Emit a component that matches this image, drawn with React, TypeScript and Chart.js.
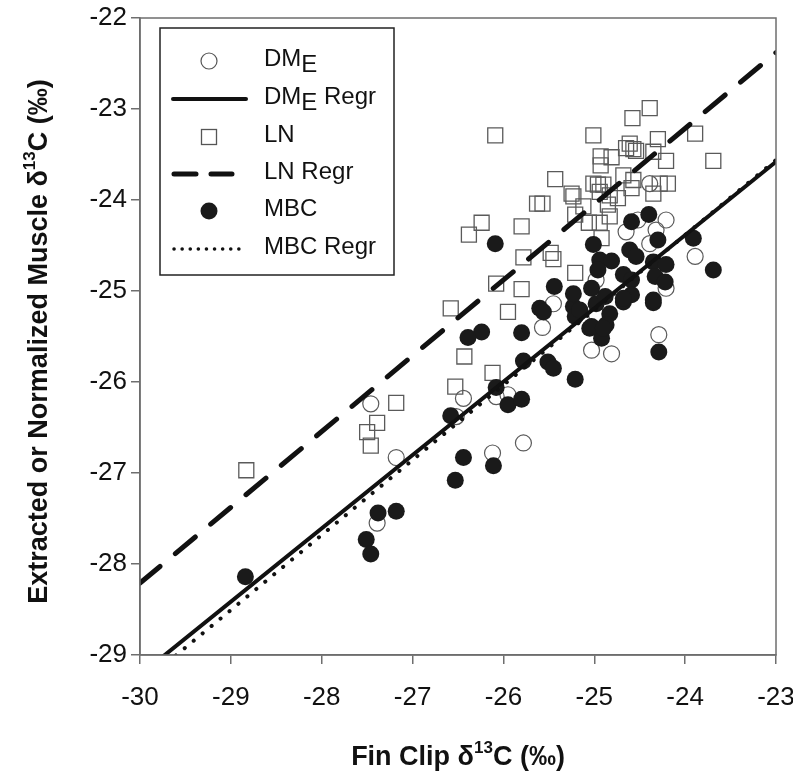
import { useEffect, useRef } from 'react';
import { Chart, registerables } from 'chart.js';
Chart.register(...registerables);

// ---- data ----
const xTicks = [-30, -29, -28, -27, -26, -25, -24, -23];
const yTicks = [-29, -28, -27, -26, -25, -24, -23, -22];

const dmeX = [-27.46, -27.18, -27.39, -26.44, -26.52, -26.08, -25.95, -26.12, -25.78, -25.57, -25.45, -25.03, -24.81, -24.29, -23.89, -24.21, -24.98, -24.52, -24.21, -24.65, -24.32, -24.39, -24.39, -24.98];
const dmeY = [-26.24, -26.83, -27.55, -26.18, -26.38, -26.16, -26.14, -26.78, -26.67, -25.40, -25.14, -25.65, -25.69, -25.48, -24.62, -24.97, -25.25, -24.22, -24.22, -24.35, -24.33, -24.48, -23.82, -24.88];

const lnX = [-28.83, -27.18, -27.39, -27.50, -27.46, -26.58, -26.53, -26.43, -26.12, -26.08, -25.80, -25.95, -26.24, -26.38, -25.80, -25.78, -25.48, -25.45, -25.21, -26.09, -25.43, -25.25, -25.23, -25.63, -25.57, -25.21, -25.06, -24.92, -24.94, -24.83, -25.12, -24.85, -25.01, -24.58, -24.39, -23.89, -23.69, -24.30, -24.61, -24.57, -24.54, -24.65, -24.35, -24.21, -24.93, -24.81, -24.93, -24.68, -24.57, -25.01, -24.96, -24.90, -24.94, -24.83, -24.74, -24.59, -24.19, -24.28, -24.35];
const lnY = [-26.97, -26.23, -26.45, -26.55, -26.70, -25.19, -26.05, -25.72, -25.90, -24.92, -24.98, -25.23, -24.25, -24.38, -24.29, -24.63, -24.58, -24.65, -24.80, -23.29, -23.77, -23.93, -23.96, -24.04, -24.04, -24.16, -24.25, -24.42, -24.25, -24.18, -24.07, -24.05, -23.29, -23.10, -22.99, -23.27, -23.57, -23.33, -23.38, -23.44, -23.46, -23.43, -23.47, -23.57, -23.52, -23.53, -23.62, -23.73, -23.78, -23.82, -23.83, -23.83, -23.91, -23.95, -23.98, -23.87, -23.82, -23.82, -23.93];

const mbcX = [-28.84, -27.51, -27.46, -27.38, -27.18, -26.53, -26.44, -26.11, -26.58, -26.08, -25.95, -25.80, -25.21, -25.78, -25.51, -25.45, -26.24, -26.39, -25.80, -25.60, -25.56, -25.23, -25.21, -25.44, -25.23, -26.09, -24.98, -24.83, -24.87, -25.05, -24.92, -24.68, -24.35, -24.29, -25.16, -25.03, -24.90, -24.59, -24.40, -25.01, -24.30, -23.91, -23.69, -24.61, -24.54, -24.94, -24.81, -24.96, -24.68, -24.35, -24.21, -24.33, -24.22, -24.59, -24.59, -24.68, -25.03, -24.88, -24.35];
const mbcY = [-28.14, -27.73, -27.89, -27.44, -27.42, -27.08, -26.83, -26.92, -26.37, -26.06, -26.25, -26.19, -25.97, -25.77, -25.78, -25.85, -25.45, -25.51, -25.46, -25.19, -25.23, -25.17, -25.28, -24.95, -25.03, -24.48, -25.14, -25.25, -25.37, -25.41, -25.52, -25.12, -25.13, -25.67, -25.21, -25.39, -25.41, -24.24, -24.16, -24.49, -24.44, -24.42, -24.77, -24.55, -24.62, -24.66, -24.67, -24.77, -24.82, -24.68, -24.71, -24.84, -24.90, -24.88, -25.04, -25.08, -24.97, -25.06, -25.10];

const dmeRegX = [-30, -23];
const dmeRegY = [-29.22, -23.58];
const lnRegX = [-30, -23];
const lnRegY = [-28.21, -22.38];
const mbcRegX = [-30, -23];
const mbcRegY = [-29.33, -23.56];

const legendLabels = [
  { main: 'DM', sub: 'E', rest: '' },
  { main: 'DM', sub: 'E', rest: ' Regr' },
  { main: 'LN', sub: '', rest: '' },
  { main: 'LN Regr', sub: '', rest: '' },
  { main: 'MBC', sub: '', rest: '' },
  { main: 'MBC Regr', sub: '', rest: '' },
];

const zip = (xs: number[], ys: number[]) => xs.map((x, i) => ({ x, y: ys[i] }));

const FONT = '"Liberation Sans", Arial, sans-serif';
const AXIS = '#6e6e6e';

function drawRich(ctx: CanvasRenderingContext2D, parts: { t: string; size: number; dy: number }[], cx: number, cy: number, weight: string) {
  let total = 0;
  for (const p of parts) {
    ctx.font = `${weight} ${p.size}px ${FONT}`;
    total += ctx.measureText(p.t).width;
  }
  let x = cx - total / 2;
  for (const p of parts) {
    ctx.font = `${weight} ${p.size}px ${FONT}`;
    ctx.fillText(p.t, x, cy + p.dy);
    x += ctx.measureText(p.t).width;
  }
}

const decor = {
  id: 'decor',
  afterDraw(chart: any) {
    const ctx: CanvasRenderingContext2D = chart.ctx;
    const a = chart.chartArea;
    ctx.save();
    // frame
    ctx.strokeStyle = AXIS;
    ctx.lineWidth = 1.5;
    ctx.strokeRect(a.left, a.top, a.right - a.left, a.bottom - a.top);

    // axis titles
    ctx.fillStyle = '#111';
    ctx.textBaseline = 'middle';
    ctx.textAlign = 'left';
    drawRich(ctx, [
      { t: 'Fin Clip δ', size: 27, dy: 0 },
      { t: '13', size: 17, dy: -10 },
      { t: 'C (‰)', size: 27, dy: 0 },
    ], (a.left + a.right) / 2, 758, 'bold');
    ctx.save();
    ctx.translate(40, (a.top + a.bottom) / 2 + 5);
    ctx.rotate(-Math.PI / 2);
    drawRich(ctx, [
      { t: 'Extracted or Normalized Muscle δ', size: 27, dy: 0 },
      { t: '13', size: 17, dy: -10 },
      { t: 'C (‰)', size: 27, dy: 0 },
    ], 0, 0, 'bold');
    ctx.restore();

    // legend
    const lx = 160, ly = 28, lw = 234, lh = 247;
    ctx.fillStyle = '#fff';
    ctx.fillRect(lx, ly, lw, lh);
    ctx.strokeStyle = '#222';
    ctx.lineWidth = 1.5;
    ctx.strokeRect(lx, ly, lw, lh);
    const rows = [61, 99, 137, 174, 211, 249];
    const sx = 209;
    // DME circle
    ctx.strokeStyle = '#555';
    ctx.lineWidth = 1.2;
    ctx.beginPath();
    ctx.arc(sx, rows[0], 8, 0, Math.PI * 2);
    ctx.stroke();
    // DME Regr
    ctx.strokeStyle = '#111';
    ctx.lineCap = 'round';
    ctx.lineWidth = 4;
    ctx.beginPath();
    ctx.moveTo(173, rows[1]);
    ctx.lineTo(246, rows[1]);
    ctx.stroke();
    // LN square
    ctx.strokeStyle = '#555';
    ctx.lineWidth = 1.3;
    ctx.lineCap = 'butt';
    ctx.strokeRect(sx - 7.5, rows[2] - 7.5, 15, 15);
    // LN Regr
    ctx.strokeStyle = '#111';
    ctx.lineWidth = 5;
    ctx.lineCap = 'round';
    ctx.beginPath();
    ctx.moveTo(174, rows[3]);
    ctx.lineTo(196, rows[3]);
    ctx.moveTo(211, rows[3]);
    ctx.lineTo(232, rows[3]);
    ctx.stroke();
    // MBC
    ctx.fillStyle = '#1a1a1a';
    ctx.beginPath();
    ctx.arc(sx, rows[4], 8.5, 0, Math.PI * 2);
    ctx.fill();
    // MBC Regr
    ctx.lineWidth = 3.5;
    ctx.setLineDash([0.1, 8]);
    ctx.beginPath();
    ctx.moveTo(174, rows[5]);
    ctx.lineTo(246, rows[5]);
    ctx.stroke();
    ctx.setLineDash([]);

    // legend text
    ctx.fillStyle = '#111';
    ctx.textBaseline = 'middle';
    ctx.textAlign = 'left';
    legendLabels.forEach((lab, i) => {
      const y = rows[i] - 2;
      ctx.font = `24px ${FONT}`;
      let x = 264;
      ctx.fillText(lab.main, x, y);
      x += ctx.measureText(lab.main).width;
      if (lab.sub) {
        ctx.fillText(lab.sub, x, y + 6);
        x += ctx.measureText(lab.sub).width;
      }
      if (lab.rest) ctx.fillText(lab.rest, x, y);
    });
    ctx.restore();
  },
};

export default function App() {
  const ref = useRef<HTMLCanvasElement | null>(null);
  useEffect(() => {
    if (!ref.current) return;
    const chart = new Chart(ref.current, {
      type: 'scatter',
      data: {
        datasets: [
          {
            label: 'DME Regr', type: 'line', data: zip(dmeRegX, dmeRegY), borderColor: '#111', borderWidth: 4,
            pointRadius: 0, fill: false, order: 0, borderCapStyle: 'round',
          },
          {
            label: 'LN Regr', type: 'line', data: zip(lnRegX, lnRegY), borderColor: '#111', borderWidth: 5,
            borderDash: [26, 20], borderCapStyle: 'round', pointRadius: 0, fill: false, order: 0,
          },
          {
            label: 'MBC Regr', type: 'line', data: zip(mbcRegX, mbcRegY), borderColor: '#111', borderWidth: 4,
            borderDash: [0.1, 11.5], borderCapStyle: 'round', pointRadius: 0, fill: false, order: 0,
          },
          {
            label: 'MBC', data: zip(mbcX, mbcY), pointStyle: 'circle', pointRadius: 8.5,
            backgroundColor: '#1a1a1a', borderColor: '#1a1a1a', borderWidth: 0, order: 1,
          },
          {
            label: 'LN', data: zip(lnX, lnY), pointStyle: 'rect', pointRadius: 10.6,
            backgroundColor: 'rgba(0,0,0,0)', borderColor: '#5a5a5a', borderWidth: 1.3, order: 2,
          },
          {
            label: 'DME', data: zip(dmeX, dmeY), pointStyle: 'circle', pointRadius: 8,
            backgroundColor: 'rgba(0,0,0,0)', borderColor: '#5a5a5a', borderWidth: 1.2, order: 3,
          },
        ],
      },
      options: {
        responsive: false,
        animation: false,
        events: [],
        layout: { padding: { top: 18, right: 17, left: 0, bottom: 0 } },
        plugins: { legend: { display: false }, tooltip: { enabled: false }, title: { display: false } },
        scales: {
          x: {
            type: 'linear', min: -30, max: -23,
            afterBuildTicks: (s: any) => { s.ticks = xTicks.map((v) => ({ value: v })); },
            afterFit: (s: any) => { s.height = 125; s.paddingLeft = 0; s.paddingRight = 0; },
            ticks: { color: '#111', font: { family: FONT, size: 26 }, padding: 18, maxRotation: 0 },
            grid: { drawOnChartArea: false, drawTicks: true, tickLength: 9, color: AXIS, lineWidth: 1.5 },
            border: { display: true, color: AXIS, width: 1.5 },
            title: { display: false },
          },
          y: {
            type: 'linear', min: -29, max: -22,
            afterBuildTicks: (s: any) => { s.ticks = yTicks.map((v) => ({ value: v })); },
            afterFit: (s: any) => { s.width = 140; s.paddingTop = 0; s.paddingBottom = 0; },
            ticks: { color: '#111', font: { family: FONT, size: 26 }, padding: 4 },
            grid: { drawOnChartArea: false, drawTicks: true, tickLength: 9, color: AXIS, lineWidth: 1.5 },
            border: { display: true, color: AXIS, width: 1.5 },
            title: { display: false },
          },
        },
      },
      plugins: [decor],
    } as any);
    return () => chart.destroy();
  }, []);
  return (
    <canvas
      ref={ref}
      width={793}
      height={780}
      style={{ position: 'absolute', left: 0, top: 0, width: 793, height: 780, background: '#fff' }}
    />
  );
}
